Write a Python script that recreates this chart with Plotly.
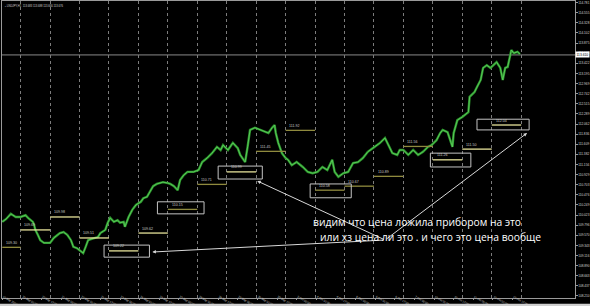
import plotly.graph_objects as go

# ---------------- data ----------------
bar_index = [0,3,7,11,15,19,21,25,26,27,
             29,31,34,37,39,42,45,47,50,53,
             56,58,61,64,66,68,70,73,78,80,
             84,86,88,91,94,96,99,100,103,106,
             109,113,115,118,121,123,126,129,131,135,
             137,140,143,145,148,151,156,160,163,167,
             171,175,178,180,184,188,192,194,198,200,
             202,206,210,214,217,220,222,223,225,228,
             231,233,236,240,245,249,253,257,261,265,
             269,271,274,278,282,286,290,294,298,302,
             308,312,315,318,322,324,327,331,335,339,
             343,347,350,354,357,359,363,367,368,371,
             375,377,380,381,385,387,390,392,395,398,
             400,403,406,408,410,412,415,417,420,422]
close = [109.87,109.93,110.05,109.98,109.98,110.02,109.96,109.87,109.80,109.69,
         109.58,109.46,109.40,109.40,109.40,109.51,109.58,109.62,109.64,109.58,
         109.46,109.31,109.28,109.22,109.17,109.31,109.46,109.49,109.53,109.62,
         109.69,109.85,109.96,109.87,109.91,109.85,109.87,109.76,109.98,110.14,
         110.25,110.32,110.40,110.43,110.56,110.67,110.72,110.74,110.76,110.74,
         110.72,110.67,110.58,110.81,110.92,110.99,110.99,111.03,111.21,111.30,
         111.41,111.55,111.48,111.59,111.48,111.64,111.52,111.37,111.21,111.55,
         111.93,111.98,111.93,111.88,111.86,111.98,112.04,111.86,111.64,111.41,
         111.30,111.26,111.14,111.21,111.10,110.99,110.96,110.99,111.10,111.03,
         111.26,110.99,110.88,110.96,110.99,111.19,111.21,111.30,111.44,111.52,
         111.64,111.75,111.59,111.41,111.37,111.48,111.48,111.37,111.48,111.37,
         111.44,111.55,111.59,111.70,111.86,111.93,111.88,111.55,111.86,112.15,
         112.22,112.26,112.33,112.67,112.78,112.89,113.05,113.32,113.38,113.32,
         113.38,113.45,113.32,113.05,113.32,113.34,113.72,113.65,113.68,113.63]

# day boundaries (bar index of each midnight) and the daily levels
day_breaks = [0,15,39,63,87,111,135,159,183,207,231,255,279,303,327,351,375,399,423]
level_values = [109.30,109.69,109.98,109.51,109.22,109.62,110.15,110.71,110.99,
                111.45,111.92,110.58,110.67,110.89,111.56,111.26,111.50,112.04]
level_bright = [False,True,True,True,True,True,False,False,True,
                False,False,False,False,False,False,True,True,True]

# x tick labels every 16 bars
tick_bars = [0,16,32,48,64,80,96,112,128,144,160,176,192,208,224,240,256,272,288,
             304,320,336,352,368,384,400,416]
tick_text = ["19 Sep 2016","20 Sep 01:00","20 Sep 17:00","21 Sep 09:00","22 Sep 01:00",
             "22 Sep 17:00","23 Sep 09:00","26 Sep 01:00","26 Sep 17:00","27 Sep 09:00",
             "28 Sep 01:00","28 Sep 17:00","29 Sep 09:00","30 Sep 01:00","30 Sep 17:00",
             "3 Oct 09:00","4 Oct 01:00","4 Oct 17:00","5 Oct 09:00","6 Oct 01:00",
             "6 Oct 17:00","7 Oct 09:00","10 Oct 01:00","10 Oct 17:00","11 Oct 09:00",
             "12 Oct 01:00","12 Oct 17:00"]

# user drawn boxes (bar0, bar1, price0, price1)
boxes = [(83, 120, 109.08, 109.35),
         (126.5, 164.5, 110.05, 110.32),
         (176, 212, 110.83, 111.12),
         (251, 284.5, 110.41, 110.72),
         (349, 382, 111.10, 111.41),
         (387, 429.5, 111.93, 112.17)]
# user drawn arrows: common tail and heads
arrow_tail = (312.1, 109.464)
arrow_heads = [(207.9, 110.786), (122.4, 109.195), (427.8, 111.86)]

bid_price = 113.61
note_line1 = "видим что цена ложила прибором на это"
note_line2 = "или хз цена ли это . и чего это цена вообще"
title_text = "▪ USDJPY,H1  113.683 113.688 113.666 113.676"

# ---------------- figure ----------------
BRIGHT = "#e6e29a"
OLIVE = "#8f8a3e"
fig = go.Figure()

fig.add_trace(go.Scatter(x=bar_index, y=close, mode="lines",
                         line=dict(color="#2a8f2a", width=2.4), hoverinfo="skip"))
fig.add_trace(go.Scatter(x=bar_index, y=close, mode="lines",
                         line=dict(color="#5ccf5c", width=0.9), hoverinfo="skip"))

for bright, col in ((True, BRIGHT), (False, OLIVE)):
    xs, ys = [], []
    for d, v in enumerate(level_values):
        if level_bright[d] == bright:
            xs += [day_breaks[d], day_breaks[d + 1], None]
            ys += [v, v, None]
    fig.add_trace(go.Scatter(x=xs, y=ys, mode="lines",
                             line=dict(color=col, width=1.3), hoverinfo="skip"))

annotations = []
for d, v in enumerate(level_values):
    annotations.append(dict(x=day_breaks[d] + 1.5, y=v, xref="x", yref="y",
                            text=f"{v:.2f}", showarrow=False, xanchor="left",
                            yanchor="bottom", yshift=0.5,
                            font=dict(family="Liberation Sans", size=3.6, color="#c8c8c8")))

shapes = []
for b0, b1, p0, p1 in boxes:
    shapes.append(dict(type="rect", xref="x", yref="y", x0=b0, x1=b1, y0=p0, y1=p1,
                       line=dict(color="#c4c4c4", width=1)))

# bid line
shapes.append(dict(type="line", xref="paper", yref="y", x0=0, x1=1,
                   y0=bid_price, y1=bid_price, line=dict(color="#8a8a8a", width=1),
                   layer="below"))
# window frame strip at the bottom
shapes.append(dict(type="rect", xref="paper", yref="paper", x0=-0.01, x1=1.03,
                   y0=-0.0269, y1=-0.019, line=dict(width=0), fillcolor="#cfcfcf",
                   layer="below"))

for hx, hy in arrow_heads:
    annotations.append(dict(x=hx, y=hy, xref="x", yref="y", ax=arrow_tail[0],
                            ay=arrow_tail[1], axref="x", ayref="y", text="",
                            showarrow=True, arrowhead=2, arrowsize=0.7,
                            arrowwidth=1, arrowcolor="#d8d8d8"))

annotations.append(dict(x=337.8, y=109.86, xref="x", yref="y", text=note_line1,
                        showarrow=False, xanchor="center", yanchor="middle",
                        font=dict(family="Open Sans", size=10.3, color="white")))
annotations.append(dict(x=348.8, y=109.54, xref="x", yref="y", text=note_line2,
                        showarrow=False, xanchor="center", yanchor="middle",
                        font=dict(family="Open Sans", size=10.3, color="white")))

annotations.append(dict(x=0.002, y=0.997, xref="paper", yref="paper", text=title_text,
                        showarrow=False, xanchor="left", yanchor="top",
                        font=dict(family="Liberation Sans", size=2.7, color="#d0d0d0")))
annotations.append(dict(x=1.0, y=bid_price, xref="paper", yref="y",
                        text=f"{bid_price:.3f}", showarrow=False, xanchor="left",
                        yanchor="middle", bgcolor="white", borderpad=0.5,
                        font=dict(family="Liberation Sans", size=3.3, color="black")))

fig.update_layout(
    width=590, height=306,
    margin=dict(l=2, r=15, t=1, b=8, autoexpand=False),
    paper_bgcolor="black", plot_bgcolor="black",
    showlegend=False,
    shapes=shapes, annotations=annotations,
    xaxis=dict(range=[-0.2, 466.9], tickmode="array", tickvals=tick_bars,
               ticktext=tick_text, ticklabelposition="outside right",
               ticks="outside", ticklen=1, tickcolor="#9a9a9a",
               ticklabelstandoff=-5,
               tickfont=dict(family="Liberation Sans", size=2.9, color="#d0d0d0"),
               showgrid=False, zeroline=False, showline=True, linecolor="#9a9a9a",
               linewidth=1, mirror=True, automargin=False,
               minor=dict(tickmode="array", tickvals=day_breaks[1:], showgrid=True,
                          gridcolor="#7c7c7c", griddash="dot", gridwidth=1, ticks="")),
    yaxis=dict(range=[108.165, 114.818], side="right", tick0=108.21, dtick=0.2266,
               tickformat=".3f", ticks="outside", ticklen=1.5, tickcolor="#9a9a9a",
               tickfont=dict(family="Liberation Sans", size=3.2, color="#d0d0d0"),
               showgrid=False, zeroline=False, showline=True, linecolor="#9a9a9a",
               linewidth=1, mirror=True, automargin=False),
)

fig.write_html("out.html")
